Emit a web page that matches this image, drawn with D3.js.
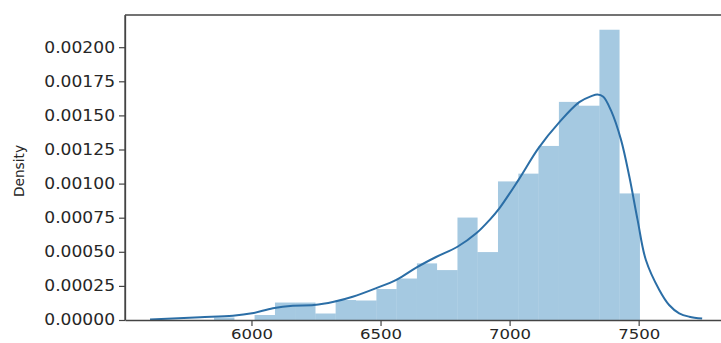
<!DOCTYPE html>
<head>
  <meta charset="utf-8">
  <script src="https://cdn.jsdelivr.net/npm/d3@7/dist/d3.min.js"></script>
  <style>
    body { margin:0; background:#fff; }
    text { font-family: "DejaVu Sans", sans-serif; fill:#262626; }
  </style>
</head>
<body>
<script>
// histogram bin edges (value units) and heights (density)
var binEdges = [5855, 5934, 6012, 6091, 6169, 6248, 6326, 6405, 6484, 6562, 6641,
                6719, 6798, 6876, 6955, 7034, 7112, 7191, 7269, 7348, 7426, 7505];
var binDensity = [0.0000183, 0, 0.0000366, 0.000128, 0.000128, 0.0000476, 0.0001465,
                  0.000143, 0.000227, 0.000304, 0.000415, 0.000366, 0.000751, 0.000498,
                  0.001016, 0.001073, 0.001276, 0.001599, 0.001571, 0.002128, 0.000928];

// kde curve
var kdeX = [5607, 5801, 5928, 6002, 6083, 6160, 6242, 6319, 6392, 6481, 6563, 6640,
            6717, 6798, 6872, 6922, 6961, 7034, 7112, 7193, 7270, 7317, 7340, 7363,
            7394, 7432, 7464, 7496, 7528, 7580, 7618, 7657, 7696, 7746];
var kdeY = [0.0000037, 0.0000198, 0.0000315, 0.0000491, 0.0000857, 0.0001048, 0.0001099,
            0.0001341, 0.0001707, 0.0002322, 0.0002967, 0.0003861, 0.0004637, 0.000537,
            0.0006374, 0.0007326, 0.0008205, 0.0010256, 0.00126, 0.0014505, 0.001597,
            0.001641, 0.0016535, 0.0016374, 0.0015311, 0.0013187, 0.0010498, 0.0007326,
            0.00043956, 0.0002198, 0.0001099, 0.0000491, 0.0000242, 0.0000103];

var xTicks = [6000, 6500, 7000, 7500];
var yTicks = [0, 0.00025, 0.0005, 0.00075, 0.001, 0.00125, 0.0015, 0.00175, 0.002];

var width = 721, height = 343;
var plotLeft = 125, plotTop = 15, plotBottom = 320, plotRight = 729;

var svg = d3.select("body").append("svg")
  .attr("width", width)
  .attr("height", height);

var x = d3.scaleLinear().domain([5510, 7850]).range([plotLeft, plotRight]);
var y = d3.scaleLinear().domain([0, 0.002236]).range([plotBottom, plotTop]);

var bins = binDensity.map(function(d, i) {
  return {x0: binEdges[i], x1: binEdges[i + 1], d: d};
});

svg.append("g").selectAll("rect")
  .data(bins)
  .enter().append("rect")
  .attr("x", function(b) { return x(b.x0); })
  .attr("width", function(b) { return x(b.x1) - x(b.x0); })
  .attr("y", function(b) { return y(b.d); })
  .attr("height", function(b) { return y(0) - y(b.d); })
  .attr("fill", "#1f77b4")
  .attr("fill-opacity", 0.4);

var line = d3.line()
  .x(function(d) { return x(d[0]); })
  .y(function(d) { return y(d[1]); })
  .curve(d3.curveCatmullRom.alpha(0.5));

svg.append("path")
  .datum(kdeX.map(function(v, i) { return [v, kdeY[i]]; }))
  .attr("d", line)
  .attr("fill", "none")
  .attr("stroke", "#2b6ea6")
  .attr("stroke-width", 2);

// spines
svg.append("line").attr("x1", plotLeft).attr("x2", plotLeft).attr("y1", plotTop).attr("y2", plotBottom)
  .attr("stroke", "#444").attr("stroke-width", 1.3);
svg.append("line").attr("x1", plotLeft).attr("x2", width).attr("y1", plotTop).attr("y2", plotTop)
  .attr("stroke", "#444").attr("stroke-width", 1.3);

var xAxis = svg.append("g")
  .attr("transform", "translate(0," + plotBottom + ")")
  .call(d3.axisBottom(x).tickValues(xTicks).tickFormat(d3.format("d")).tickSize(6).tickPadding(3).tickSizeOuter(0));

var yAxis = svg.append("g")
  .attr("transform", "translate(" + plotLeft + ",0)")
  .call(d3.axisLeft(y).tickValues(yTicks).tickFormat(d3.format(".5f")).tickSize(6).tickPadding(4).tickSizeOuter(0));

function styleAxis(g, size, stretch) {
  g.select(".domain").attr("stroke", "#444").attr("stroke-width", 1.3);
  g.selectAll(".tick line").attr("stroke", "#444").attr("stroke-width", 1.2);
  g.selectAll(".tick text")
    .attr("font-size", size)
    .attr("font-family", "DejaVu Sans")
    .attr("fill", "#333")
    .each(function() {
      var w = this.getComputedTextLength();
      d3.select(this).attr("textLength", w * stretch).attr("lengthAdjust", "spacingAndGlyphs");
    });
}
styleAxis(xAxis, 14, 1.18);
styleAxis(yAxis, 15, 1.14);

svg.append("text")
  .attr("transform", "translate(24,171) rotate(-90)")
  .attr("text-anchor", "middle")
  .attr("font-size", 14)
  .attr("fill", "#333")
  .attr("textLength", 52)
  .attr("lengthAdjust", "spacingAndGlyphs")
  .text("Density");
</script>
</body>
